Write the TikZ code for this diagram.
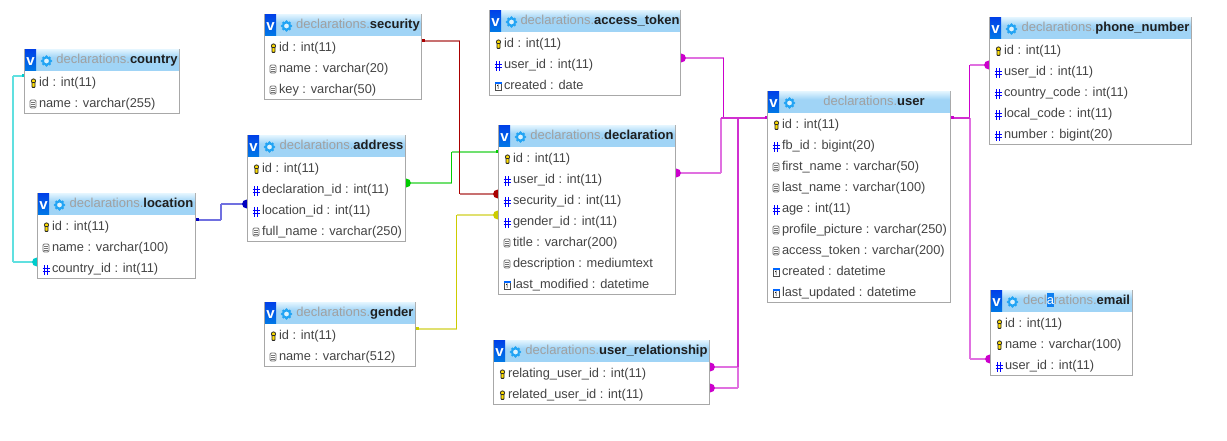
\documentclass[tikz,border=0pt]{standalone}
\usepackage{fontspec}
\setmainfont{Liberation Sans}
\pgfdeclarelayer{bg}
\pgfsetlayers{bg,main}
\definecolor{tborder}{HTML}{A8A8A8}
\definecolor{rowtext}{HTML}{444444}
\definecolor{ttlgray}{HTML}{A0A0A0}
\definecolor{hdrtop}{HTML}{DDF2FE}
\definecolor{hdr}{HTML}{A0D4F6}
\definecolor{vblue}{HTML}{0058E0}
\definecolor{gearblue}{HTML}{22A4F4}
\definecolor{hlblue}{HTML}{1080F0}
\definecolor{ccyan}{HTML}{00CCCC}
\definecolor{cblue}{HTML}{0000C0}
\definecolor{cgreen}{HTML}{00CC00}
\definecolor{cred}{HTML}{AA0000}
\definecolor{cyellow}{HTML}{CCCC00}
\definecolor{cpink}{HTML}{CC00CC}
\definecolor{lcyan}{HTML}{60E0E0}
\definecolor{lblue}{HTML}{7070E0}
\definecolor{lgreen}{HTML}{70E070}
\definecolor{lred}{HTML}{C87070}
\definecolor{lyellow}{HTML}{E0E070}
\definecolor{lpink}{HTML}{E070E0}
\definecolor{mpink}{HTML}{D030D0}
\newcommand{\dn}[1]{\textcolor{ttlgray}{#1}}
\newcommand{\tb}[1]{\textcolor{black!88}{\bfseries #1}}
\tikzset{
  tbl/.style={draw=tborder,line width=1bp,fill=white,inner sep=0pt,outer sep=0pt,rectangle},
  rowlabel/.style={anchor=base west,inner sep=0pt,outer sep=0pt,text=rowtext,font=\fontsize{12.8bp}{15bp}\selectfont},
  ttllabel/.style={anchor=base,inner sep=0pt,outer sep=0pt,font=\fontsize{13bp}{15bp}\selectfont},
  vlabel/.style={anchor=base,inner sep=0pt,outer sep=0pt,text=white,font=\fontsize{15bp}{15bp}\selectfont\bfseries},
  lite/.style={line width=1.6bp,draw=#1},
  fine/.style={line width=1bp,draw=#1},
  bar/.style={line width=2bp,draw=#1},
  enddot/.style={fill=#1,draw=none},
}
\newcommand{\iconk}[2]{\begin{scope}[shift={(#1+.5,#2-3.5)}]
  \draw[line width=.8bp,draw=black!85,fill=yellow!80!orange] (0,-2) circle[radius=2.1];
  \draw[line width=.8bp,draw=black!85,fill=yellow!80!orange,rounded corners=.6] (-1.5,-.5) rectangle (1.5,4.4);
\end{scope}}
\newcommand{\icond}[2]{\begin{scope}[shift={(#1,#2-3.5)}]
  \draw[line width=.8bp,draw=black!55,fill=white,rounded corners=1.2] (-3,-4) rectangle (3,4);
  \draw[line width=.7bp,draw=black!55] (-1.6,-1.5) -- (1.6,-1.5) (-1.6,.2) -- (1.6,.2) (-1.6,1.9) -- (1.6,1.9);
\end{scope}}
\newcommand{\iconh}[2]{\begin{scope}[shift={(#1,#2-2.5)}]
  \draw[line width=1.1bp,draw=blue] (-1.5,-4.6) -- (-1.5,4.6) (1.7,-4.6) -- (1.7,4.6) (-3.5,-1.6) -- (3.5,-1.6) (-3.5,1.6) -- (3.5,1.6);
\end{scope}}
\newcommand{\icont}[2]{\begin{scope}[shift={(#1,#2-3.5)}]
  \draw[line width=.6bp,draw=black!70,fill=white] (-3.2,-3.5) rectangle (3.2,4);
  \fill[blue!60!cyan] (-3.5,-4.2) rectangle (3.5,-2.2);
  \draw[line width=.7bp,draw=black] (-.8,-.4) -- (.1,-1) -- (.1,2.8);
\end{scope}}
\newcommand{\erdtable}[7]{%
  \node[tbl,minimum width={(#4-#2)*1bp},minimum height={(#5-#3)*1bp}] (#1) at ({(#2+#4)/2},{(#3+#5)/2}) {};
  \fill[hdr] (#2+.5,#3+.5) rectangle (#4-.5,#3+21.5);
  \shade[top color=hdrtop,bottom color=hdr] (#2+.5,#3+.5) rectangle (#4-.5,#3+8);
  \shade[top color=vblue!75!blue,bottom color=vblue!80!cyan] (#2+.5,#3+.5) rectangle (#2+11.5,#3+21.5);
  \node[vlabel] (#1-v) at (#2+6,#3+16) {v};
  \begin{scope}[shift={(#2+22,#3+11.5)}]
    \foreach \a in {0,45,...,315} {\fill[gearblue] (\a:4.4) circle[radius=1.5];}
    \draw[gearblue,line width=2bp,fill=hdrtop] (0,0) circle[radius=3.6];
  \end{scope}
  \node[ttllabel] (#1-title) at ({(#2+29+#4)/2+.5},#3+14) {#6};
  \foreach[count=\i] \k/\s in {#7} {
    \pgfmathsetmacro{\yb}{#3+37+21*(\i-1)}
    \node[rowlabel] (#1-r\i) at (#2+14.5,\yb) {\s};
    \csname icon\k\endcsname{#2+8.5}{\yb}
  }%
}
% connector: ends with one look, the bend's vertical with another
\newcommand{\conn}[5]{%
  \draw[#1] (#3) -- (#3 -| #4);
  \draw[#2] (#3 -| #4) -- (#5 -| #4);
  \draw[#1] (#5 -| #4) -- (#5);
}
\begin{document}
\begin{tikzpicture}[x=1bp,y=-1bp]
\useasboundingbox (0,0) rectangle (1227,441);
\begin{pgfonlayer}{bg}
  \fill[white] (0,0) rectangle (1227,441);
\end{pgfonlayer}
\erdtable{country}{24.5}{49.5}{179.5}{113.5}{\dn{declarations.}\tb{country}}{k/id : int(11),d/name : varchar(255)}
\erdtable{security}{264.5}{14.5}{421.5}{99.5}{\dn{declarations.}\tb{security}}{k/id : int(11),d/name : varchar(20),d/key : varchar(50)}
\erdtable{address}{247.5}{135.5}{405.5}{241.5}{\dn{declarations.}\tb{address}}{k/id : int(11),h/declaration\_id : int(11),h/location\_id : int(11),d/full\_name : varchar(250)}
\erdtable{location}{37.5}{193.5}{195.5}{278.5}{\dn{declarations.}\tb{location}}{k/id : int(11),d/name : varchar(100),h/country\_id : int(11)}
\erdtable{accesstoken}{489.5}{10.5}{680.5}{95.5}{\dn{declarations.}\tb{access\_token}}{k/id : int(11),h/user\_id : int(11),t/created : date}
\erdtable{declaration}{498.5}{125.5}{675.5}{294.5}{\dn{declarations.}\tb{declaration}}{k/id : int(11),h/user\_id : int(11),h/security\_id : int(11),h/gender\_id : int(11),d/title : varchar(200),d/description : mediumtext,t/last\_modified : datetime}
\erdtable{gender}{264.5}{302.5}{415.5}{366.5}{\dn{declarations.}\tb{gender}}{k/id : int(11),d/name : varchar(512)}
\erdtable{userrel}{493.5}{340.5}{709.5}{404.5}{\dn{declarations.}\tb{user\_relationship}}{k/relating\_user\_id : int(11),k/related\_user\_id : int(11)}
\erdtable{user}{767.5}{91.5}{950.5}{302.5}{\dn{declarations.}\tb{user}}{k/id : int(11),h/fb\_id : bigint(20),d/first\_name : varchar(50),d/last\_name : varchar(100),h/age : int(11),d/profile\_picture : varchar(250),d/access\_token : varchar(200),t/created : datetime,t/last\_updated : datetime}
\erdtable{phone}{989.5}{17.5}{1191.5}{144.5}{\dn{declarations.}\tb{phone\_number}}{k/id : int(11),h/user\_id : int(11),h/country\_code : int(11),h/local\_code : int(11),h/number : bigint(20)}
\erdtable{email}{990.5}{290.5}{1132.5}{375.5}{\dn{decl}{\setlength{\fboxsep}{0pt}\colorbox{hlblue}{\textcolor{white}{\rule[-3bp]{0pt}{14bp}a}}}\dn{rations.}\tb{email}}{k/id : int(11),k/name : varchar(100),h/user\_id : int(11)}
% ports
\coordinate (pCountry) at (country.west |- 0,76);
\coordinate (pLocW) at (location.west |- 0,262);
\coordinate (pLocE) at (location.east |- 0,220);
\coordinate (pAddrW) at (address.west |- 0,204);
\coordinate (pAddrE) at (address.east |- 0,183);
\coordinate (pDeclId) at (declaration.west |- 0,152);
\coordinate (pSec) at (security.east |- 0,41);
\coordinate (pDeclSec) at (declaration.west |- 0,194);
\coordinate (pGen) at (gender.east |- 0,329);
\coordinate (pDeclGen) at (declaration.west |- 0,215);
\coordinate (pTok) at (accesstoken.east |- 0,58);
\coordinate (pUserW) at (user.west |- 0,118);
\coordinate (pDeclE) at (declaration.east |- 0,173);
\coordinate (pRelA) at (userrel.east |- 0,367);
\coordinate (pRelB) at (userrel.east |- 0,388);
\coordinate (pUserE) at (user.east |- 0,118);
\coordinate (pPhone) at (phone.west |- 0,65);
\coordinate (pEmail) at (email.west |- 0,359);
% bends
\coordinate (mA) at (13,0);
\coordinate (mB) at (221,0);
\coordinate (mC) at (451.5,0);
\coordinate (mD) at (459.5,0);
\coordinate (mE) at (456.5,0);
\coordinate (mF) at (723.5,0);
\coordinate (mG) at (721,0);
\coordinate (mH) at (738,0);
\coordinate (mI) at (969.5,0);
\coordinate (mJ) at (970,0);
\begin{pgfonlayer}{bg}
  \conn{lite=lcyan}{lite=lcyan}{pCountry}{mA}{pLocW}
  \conn{lite=lblue}{lite=lblue}{pLocE}{mB}{pAddrW}
  \conn{lite=lgreen}{fine=cgreen}{pAddrE}{mC}{pDeclId}
  \conn{lite=lred}{fine=cred}{pSec}{mD}{pDeclSec}
  \conn{lite=lyellow}{fine=cyellow}{pGen}{mE}{pDeclGen}
  \conn{lite=lpink}{fine=cpink}{pTok}{mF}{pUserW}
  \conn{lite=lpink}{lite=lpink}{pDeclE}{mG}{pUserW}
  \conn{lite=lpink}{lite=lpink}{pRelB}{mH}{pUserW}
  \conn{lite=lpink}{bar=mpink}{pRelA}{mH}{pUserW}
  \conn{lite=lpink}{fine=cpink}{pPhone}{mI}{pUserE}
  \conn{lite=lpink}{lite=lpink}{pEmail}{mJ}{pUserE}
  % shared trunks, where several connectors run on top of each other
  \draw[bar=mpink] (pUserW -| mG) -- (pUserW);
  \draw[bar=mpink] (pUserE) -- (pUserE -| mJ);
  % dots
  \fill[enddot=ccyan] ([xshift=-1bp]pLocW) circle[radius=4.4];
  \fill[enddot=cblue] ([xshift=-1bp]pAddrW) circle[radius=4.4];
  \fill[enddot=cgreen] ([xshift=1bp]pAddrE) circle[radius=4.4];
  \fill[enddot=cred] ([xshift=-1bp]pDeclSec) circle[radius=4.4];
  \fill[enddot=cyellow] ([xshift=-1bp]pDeclGen) circle[radius=4.4];
  \fill[enddot=cpink] ([xshift=1bp]pTok) circle[radius=4.4];
  \fill[enddot=cpink] ([xshift=1bp]pDeclE) circle[radius=4.4];
  \fill[enddot=cpink] ([xshift=1bp]pRelA) circle[radius=4.4];
  \fill[enddot=cpink] ([xshift=1bp]pRelB) circle[radius=4.4];
  \fill[enddot=cpink] ([xshift=-1bp]pPhone) circle[radius=4.4];
  \fill[enddot=cpink] ([xshift=-1bp]pEmail) circle[radius=4.4];
  % square ends
  \fill[ccyan] ([shift={(-3,-1.5)}]pCountry) rectangle ([shift={(0,1.5)}]pCountry);
  \fill[cblue] ([shift={(0,-1.5)}]pLocE) rectangle ([shift={(3,1.5)}]pLocE);
  \fill[cgreen] ([shift={(-3,-1.5)}]pDeclId) rectangle ([shift={(0,1.5)}]pDeclId);
  \fill[cred] ([shift={(0,-1.5)}]pSec) rectangle ([shift={(3,1.5)}]pSec);
  \fill[cyellow] ([shift={(0,-1.5)}]pGen) rectangle ([shift={(3,1.5)}]pGen);
  \fill[cpink] ([shift={(-3,-1.5)}]pUserW) rectangle ([shift={(0,1.5)}]pUserW);
  \fill[cpink] ([shift={(0,-1.5)}]pUserE) rectangle ([shift={(3,1.5)}]pUserE);
\end{pgfonlayer}
\end{tikzpicture}
\end{document}
